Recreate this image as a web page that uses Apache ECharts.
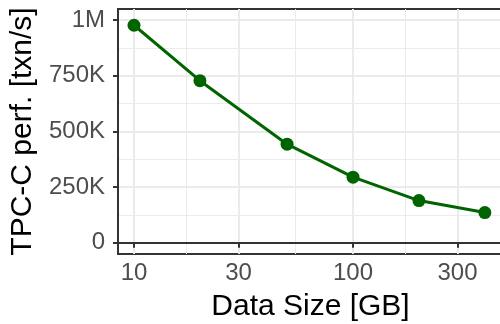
<!DOCTYPE html>
<html>
<head>
<meta charset="utf-8">
<script src="https://cdn.jsdelivr.net/npm/echarts@6/dist/echarts.min.js"></script>
<style>
  html, body { margin: 0; padding: 0; background: #fff; }
  #chart { width: 500px; height: 324px; }
</style>
</head>
<body>
<div id="chart"></div>
<script>
// TPC-C throughput as the database grows
const dataSizeGB = [10, 20, 50, 100, 200, 400];
const tpccTxnPerSec = [977000, 728000, 443000, 295000, 190000, 136000];

// axis ticks
const xTickValues = [10, 30, 100, 300];
const xMinorGrid = [17.32, 54.77, 173.2];
const yTickValues = [0, 250000, 500000, 750000, 1000000];
const yMinorGrid = [125000, 375000, 625000, 875000];

const log10 = Math.log10;
const FONT = '"Liberation Sans", Arial, sans-serif';

function fmtY(v) {
  if (v === 0) return '0';
  if (v >= 1000000) return (v / 1000000) + 'M';
  return (v / 1000) + 'K';
}

const chart = echarts.init(document.getElementById('chart'), null, { renderer: 'canvas' });

const xMin = 0.9269, xMax = 2.685;
const yMin = -50000, yMax = 1050000;

chart.setOption({
  animation: false,
  backgroundColor: '#ffffff',
  grid: {
    left: 118, top: 9, width: 385, height: 245,
    outerBoundsMode: 'none', containLabel: false,
    show: true, borderColor: '#333333', borderWidth: 2, backgroundColor: '#ffffff'
  },
  xAxis: [
    {
      type: 'value', min: xMin, max: xMax,
      name: 'Data Size [GB]', nameLocation: 'middle', nameGap: 38,
      nameTextStyle: { fontFamily: FONT, fontSize: 30, color: '#000' },
      axisLine: { show: true, lineStyle: { color: '#333333', width: 2 } },
      axisTick: { show: true, length: 5, lineStyle: { color: '#333333', width: 2 },
                  customValues: xTickValues.map(log10) },
      axisLabel: { show: true, margin: 7, fontFamily: FONT, fontSize: 24, color: '#4D4D4D',
                   customValues: xTickValues.map(log10),
                   formatter: v => String(Math.round(Math.pow(10, v))) },
      splitLine: { show: true, lineStyle: { color: '#EBEBEB', width: 2 } }
    },
    {
      type: 'value', min: xMin, max: xMax, position: 'bottom',
      axisLine: { show: false },
      axisTick: { show: false, customValues: xMinorGrid.map(log10) },
      axisLabel: { show: false, customValues: xMinorGrid.map(log10) },
      splitLine: { show: true, lineStyle: { color: '#EBEBEB', width: 1 } }
    }
  ],
  yAxis: [
    {
      type: 'value', min: yMin, max: yMax,
      name: 'TPC-C perf. [txn/s]', nameLocation: 'middle', nameGap: 80, nameRotate: 90,
      nameTextStyle: { fontFamily: FONT, fontSize: 30, color: '#000' },
      axisLine: { show: true, lineStyle: { color: '#333333', width: 2 } },
      axisTick: { show: true, length: 5, lineStyle: { color: '#333333', width: 2 },
                  customValues: yTickValues },
      axisLabel: { show: true, margin: 13, fontFamily: FONT, fontSize: 24, color: '#4D4D4D',
                   customValues: yTickValues, formatter: fmtY },
      splitLine: { show: true, lineStyle: { color: '#EBEBEB', width: 2 } }
    },
    {
      type: 'value', min: yMin, max: yMax, position: 'left',
      axisLine: { show: false },
      axisTick: { show: false, customValues: yMinorGrid },
      axisLabel: { show: false, customValues: yMinorGrid },
      splitLine: { show: true, lineStyle: { color: '#EBEBEB', width: 1 } }
    }
  ],
  series: [
    {
      type: 'line',
      xAxisIndex: 0, yAxisIndex: 0,
      data: dataSizeGB.map((s, i) => [log10(s), tpccTxnPerSec[i]]),
      symbol: 'circle', symbolSize: 13,
      lineStyle: { color: '#006400', width: 3 },
      itemStyle: { color: '#006400' },
      z: 5
    }
  ]
});
</script>
</body>
</html>
